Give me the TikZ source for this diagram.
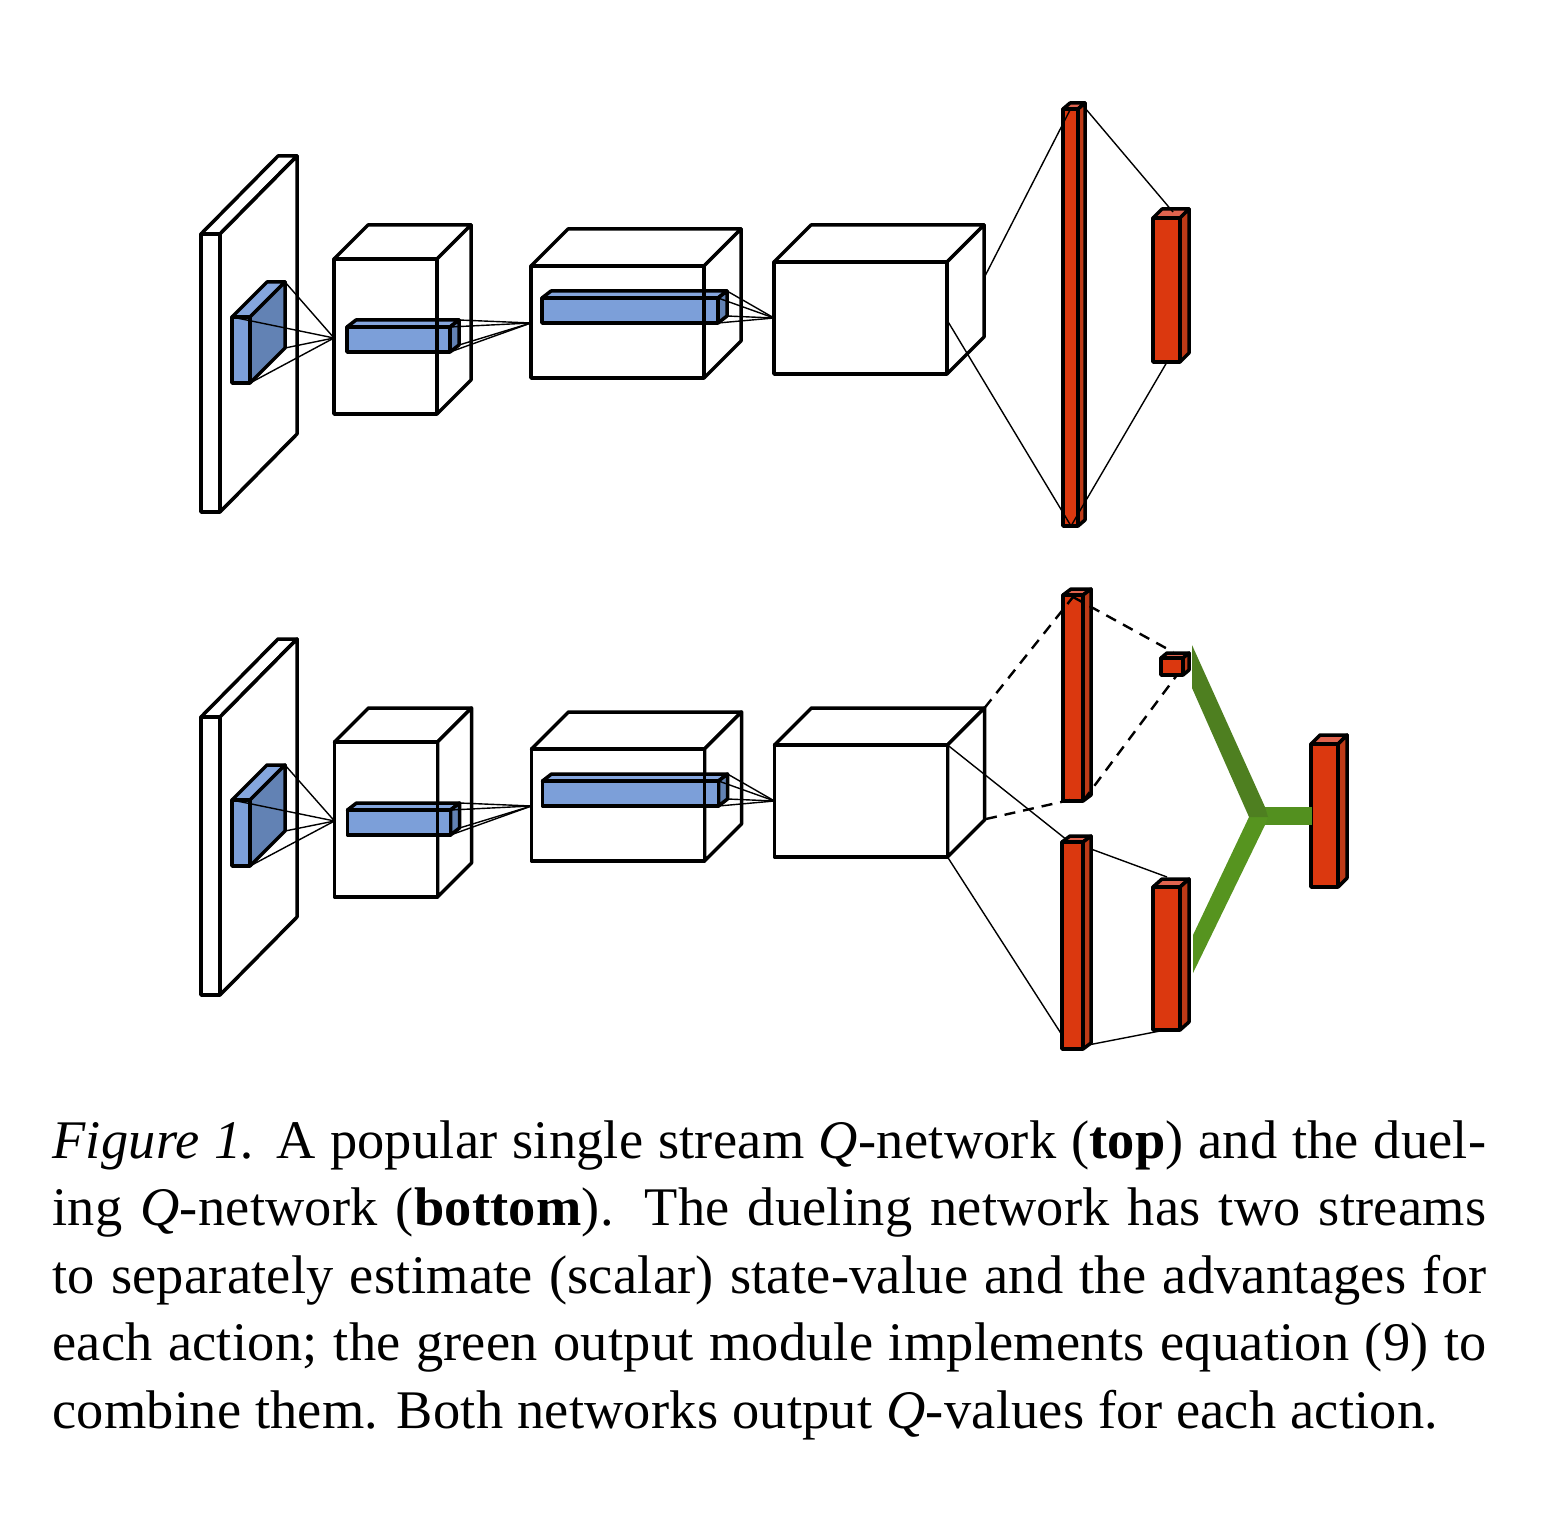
\documentclass[tikz,border=0pt]{standalone}
\usepackage{fontspec}
\setmainfont[LetterSpace=0.45]{Liberation Serif}
\usepackage{xcolor}
\usetikzlibrary{calc}
\definecolor{bluefront}{HTML}{7C9FD9}
\definecolor{blueside}{HTML}{6282B4}
\definecolor{bluetop}{HTML}{85A6DE}
\definecolor{redfront}{HTML}{DB380F}
\definecolor{redside}{HTML}{BD3A17}
\definecolor{redtop}{HTML}{E0644F}
\definecolor{greenup}{HTML}{4E7F20}
\definecolor{greenlow}{HTML}{56941F}
\definecolor{greenbar}{HTML}{53901F}
\tikzset{
  edge/.style     ={draw=black, line width=1.75pt, line join=round},
  bluefacef/.style ={edge, fill=bluefront},
  bluefaces/.style ={edge, fill=blueside},
  bluefacet/.style ={edge, fill=bluetop},
  redfacef/.style  ={edge, fill=redfront},
  redfaces/.style  ={edge, fill=redside},
  redfacet/.style  ={edge, fill=redtop},
  whitefacef/.style={edge, fill=white},
  whitefaces/.style={edge, fill=white},
  whitefacet/.style={edge, fill=white},
  wire/.style     ={draw=black, line width=0.7pt},
  dashwire/.style ={draw=black, line width=1.2pt, dash pattern=on 5.5pt off 4pt},
  caption/.style  ={anchor=north west, inner sep=0pt, text width=717pt, align=justify,
    font=\fontsize{27.2}{33.75}\selectfont},
}
% name, left, top, width, height, depth x, depth y, colour family
\newcommand{\cuboidbox}[8]{
  \coordinate (#1-tl) at (#2,#3);
  \coordinate (#1-tr) at ($(#1-tl)+(#4,0)$);
  \coordinate (#1-bl) at ($(#1-tl)+(0,#5)$);
  \coordinate (#1-br) at ($(#1-tr)+(0,#5)$);
  \coordinate (#1-btl) at ($(#1-tl)+(#6,-#7)$);
  \coordinate (#1-btr) at ($(#1-tr)+(#6,-#7)$);
  \coordinate (#1-bbr) at ($(#1-br)+(#6,-#7)$);
  \draw[#8facet] (#1-tl) -- (#1-btl) -- (#1-btr) -- (#1-tr) -- cycle;
  \draw[#8faces] (#1-tr) -- (#1-btr) -- (#1-bbr) -- (#1-br) -- cycle;
  \draw[#8facef] (#1-tl) -- (#1-tr) -- (#1-br) -- (#1-bl) -- cycle;
}
\begin{document}
\begin{tikzpicture}[x=0.5pt,y=-0.5pt]
\useasboundingbox (0,0) rectangle (1556,1518);

% Convolutional part, the same in both networks
\foreach \net/\xo/\yo in {top/0/0,bot/0.5/483}{
  \cuboidbox{\net plate}{201}{234+\yo}{19}{278}{77}{78}{white}
  \cuboidbox{\net cubeA}{334+\xo}{259+\yo}{103}{155}{34}{34}{white}
  \cuboidbox{\net cubeB}{531+\xo}{266+\yo}{173}{112}{37}{37}{white}
  \cuboidbox{\net cubeC}{774+\xo}{262+\yo}{173}{112}{37}{37}{white}

  \cuboidbox{\net patch}{232}{317+\yo}{18}{66}{35}{35}{blue}
  \cuboidbox{\net barA}{347+\xo}{327+\yo}{103}{25}{9}{7}{blue}
  \cuboidbox{\net barB}{542+\xo}{298+\yo}{176}{25}{9}{7}{blue}

  \coordinate (\net inA) at (334+\xo,338+\yo);
  \coordinate (\net inB) at (531+\xo,323+\yo);
  \coordinate (\net inC) at (774+\xo,318+\yo);

  \foreach \corner in {tl,btr,bbr,br}
    \draw[wire] (\net patch-\corner) -- (\net inA);
  \foreach \corner in {tr,btr,bbr,br}{
    \draw[wire] (\net barA-\corner) -- (\net inB);
    \draw[wire] (\net barB-\corner) -- (\net inC);
  }
  % front edges run over the bars
  \draw[edge] (\net cubeA-tr) -- (\net cubeA-br);
  \draw[edge] (\net cubeB-tr) -- (\net cubeB-br);
}

% Single stream
\cuboidbox{tall}{1063}{109}{15}{417}{7}{6}{red}
\cuboidbox{head}{1153}{218}{27}{144}{9}{9}{red}

\coordinate (tallUp) at (1070,110);
\coordinate (tallLow) at (1071,526);
\coordinate (tallOut) at (1085,108);
\coordinate (headUp) at (1173,212);
\coordinate (headLow) at (1167,362);
\coordinate (cubeUp) at (984,278);
\coordinate (cubeLow) at (947,320);

\draw[wire] (cubeUp) -- (tallUp);
\draw[wire] (cubeLow) -- (tallLow);
\draw[wire] (tallOut) -- (headUp);
\draw[wire] (headLow) -- (tallLow);

% Dueling streams
\cuboidbox{value}{1063}{595}{20}{206}{8}{6}{red}
\cuboidbox{scalar}{1161}{658}{22}{17}{6}{5}{red}
\cuboidbox{adv}{1062}{842}{21}{207}{8}{6}{red}
\cuboidbox{advout}{1153}{887}{27}{143}{9}{8}{red}
\cuboidbox{out}{1311}{744}{27}{143}{9}{9}{red}

\coordinate (valueUp) at (1073,597);
\coordinate (valueLow) at (1070,800);
\coordinate (scalarUp) at (1173,652);
\coordinate (scalarLow) at (1177,675);
\coordinate (cubeMid) at (986,819);
\coordinate (advUp) at (1067,840);
\coordinate (advLow) at (1062,1035);
\coordinate (advOutUp) at (1091,849);
\coordinate (advOutLow) at (1088,1045);
\coordinate (headOutUp) at (1167,877);
\coordinate (headOutLow) at (1160,1031);

\draw[dashwire] (botcubeC-btr) -- (valueUp);
\draw[dashwire] (valueUp) -- (scalarUp);
\draw[dashwire] (cubeMid) -- (valueLow);
\draw[dashwire] (value-br) -- (scalarLow);
\draw[wire] (botcubeC-tr) -- (advUp);
\draw[wire] (botcubeC-br) -- (advLow);
\draw[wire] (advOutUp) -- (headOutUp);
\draw[wire] (advOutLow) -- (headOutLow);

% Green output module
\fill[greenbar] (1265,807) rectangle (1312,825);
\fill[greenlow] (1193,973) -- (1193,935) -- (1249,817) -- (1268,817) -- (1265,825) -- cycle;
\fill[greenup] (1192,645) -- (1192,688) -- (1249,817) -- (1268,817) -- (1265,807) -- cycle;

% Caption
\node[caption] (figcaption) at (52,1120) {\textit{Figure 1.} A popular single stream \textit{Q}-network (\textbf{top}) and the duel-\linebreak
ing \textit{Q}-network (\textbf{bottom}).  The dueling network has two streams\linebreak
to separately estimate (scalar) state-value and the advantages for\linebreak
each action; the green output module implements equation (9) to\linebreak
combine them. Both networks output \textit{Q}-values for each action.};

\end{tikzpicture}
\end{document}
